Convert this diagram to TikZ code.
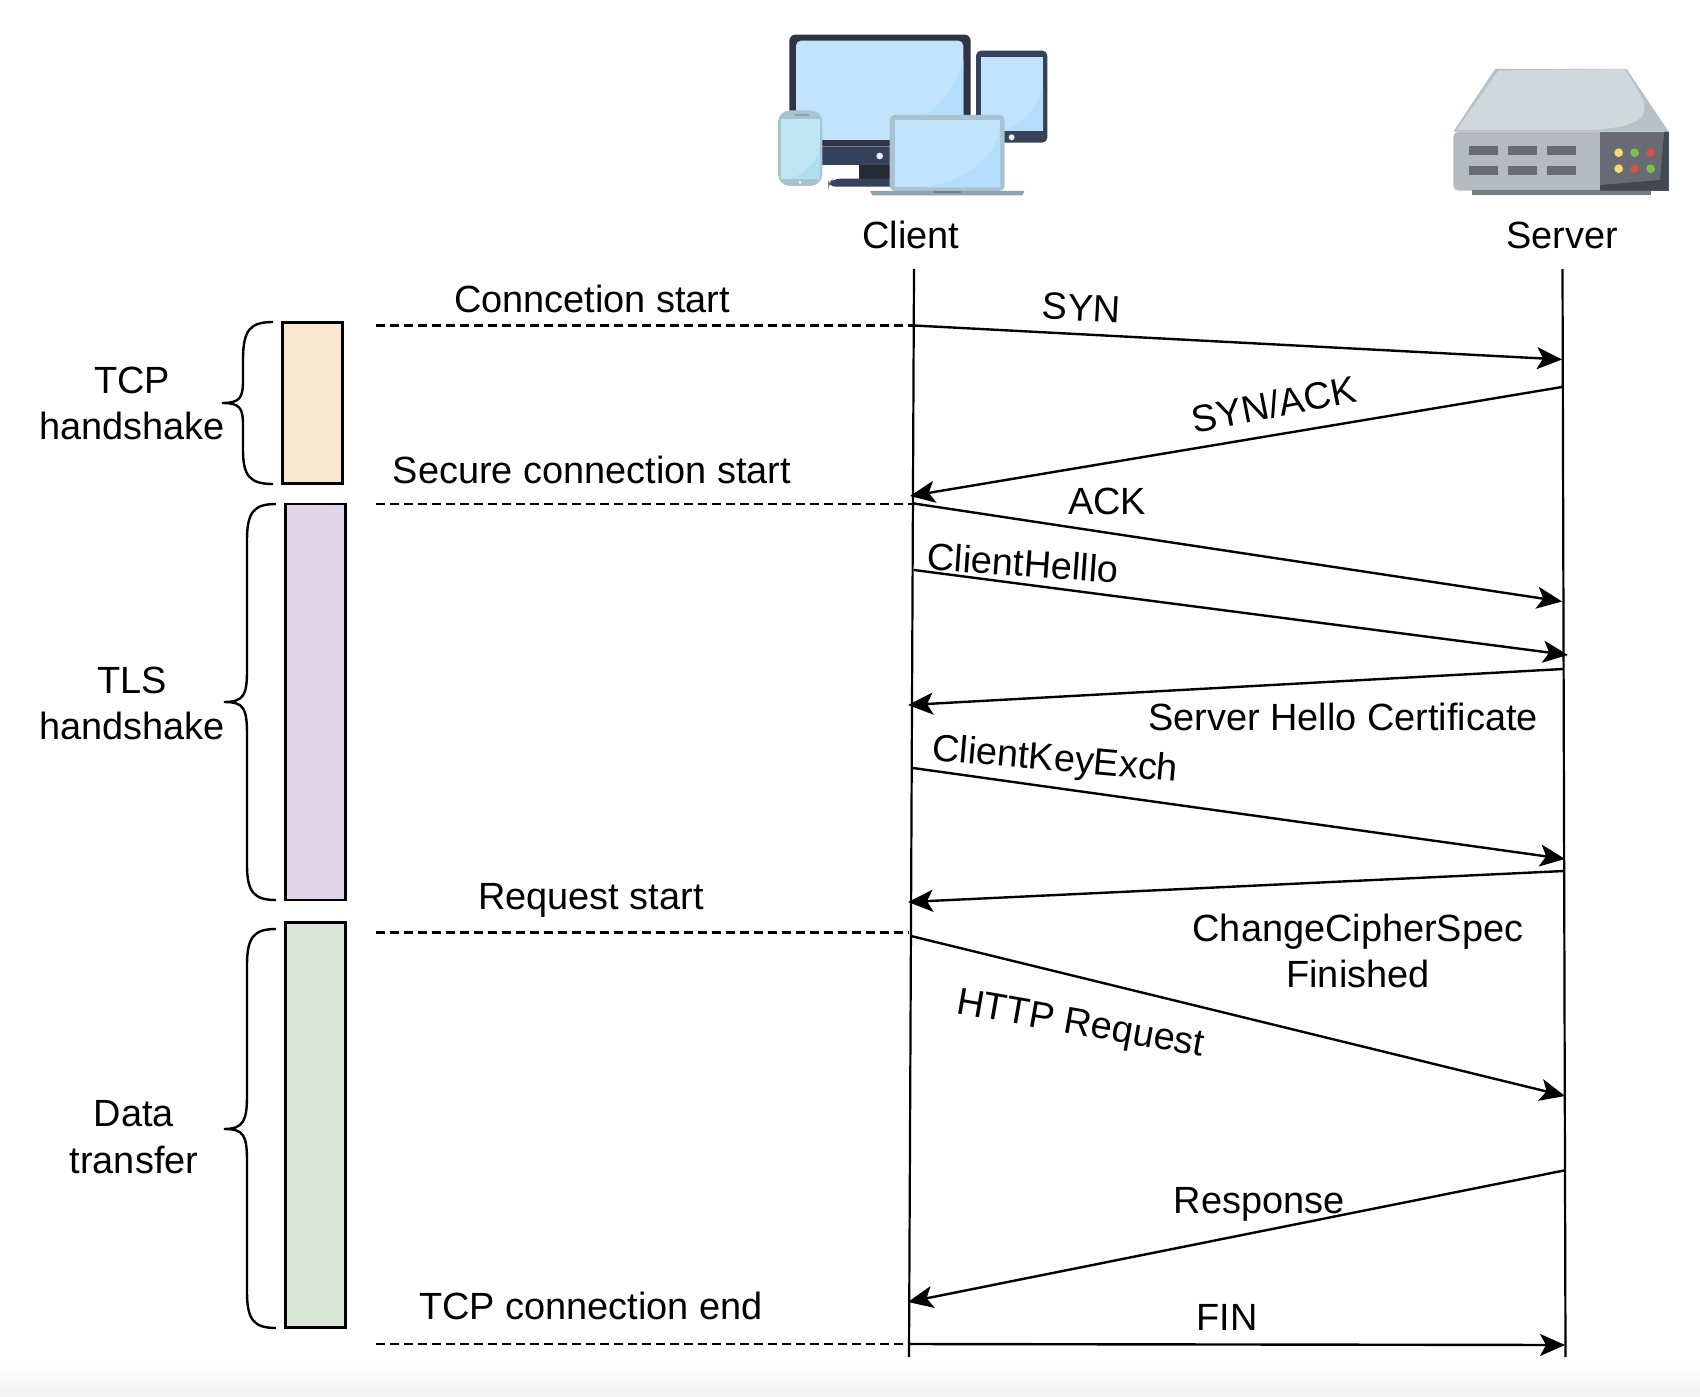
\documentclass[tikz,border=0pt]{standalone}
\usepackage{fontspec}
\setmainfont{Liberation Sans}
\usetikzlibrary{arrows.meta}
\definecolor{scr}{HTML}{C1E4FC}
\definecolor{glare}{HTML}{B4DEFB}
\definecolor{navy}{HTML}{34425C}
\definecolor{bezel}{HTML}{2F3444}
\definecolor{lap}{HTML}{A9C2D0}
\definecolor{lapbase}{HTML}{8DA2AD}
\definecolor{lapnotch}{HTML}{6C808B}
\definecolor{slot}{HTML}{686C72}
\definecolor{phscr}{HTML}{BFE6F5}
\definecolor{phgl}{HTML}{AEDFEF}
\definecolor{srvtop}{HTML}{D0D8DB}
\definecolor{srvedge}{HTML}{B5C1C7}
\definecolor{srvfront}{HTML}{B4BABD}
\definecolor{srvfoot}{HTML}{767B80}
\definecolor{srvdark}{HTML}{43474E}
\definecolor{ledy}{HTML}{F6DC6C}
\definecolor{ledg}{HTML}{7FC04C}
\definecolor{ledr}{HTML}{D5524A}
\definecolor{tcpfill}{HTML}{FBE6D0}
\definecolor{tlsfill}{HTML}{E0D5E8}
\definecolor{datafill}{HTML}{DAE7D7}
\definecolor{stand}{HTML}{262A33}
\definecolor{btn}{HTML}{EEEEEE}
\tikzset{
  lbl/.style={font=\fontsize{37.9}{46.5}\selectfont,inner sep=0pt,align=center,text=black},
  life/.style={draw=black,line width=2.2pt},
  msg/.style={draw=black,line width=2.4pt,-{Stealth[length=25pt,width=22pt,inset=6pt]}},
  dashline/.style={draw=black,line width=2.4pt,dash pattern=on 9pt off 5pt},
  phase/.style={draw=black,line width=2.6pt,inner sep=0pt},
  brc/.style={draw=black,line width=2.4pt},
}
\begin{document}
\begin{tikzpicture}[x=1pt,y=-1pt]
\useasboundingbox (0,0) rectangle (1700,1396.5);
\fill[white] (0,0) rectangle (1700,1396.5);
\shade[top color=white,bottom color=black!5,draw=none] (0,1362) rectangle (1700,1396.5);

% client devices
\begin{scope}[shift={(760,20)},x=0.33333pt,y=-0.33333pt]
  \fill[bezel,rounded corners=6] (88,44) rectangle (632,380);
  \fill[navy] (88,380) rectangle (632,434);
  \fill[scr,rounded corners=5] (108,62) rectangle (610,360);
  \fill[glare] (610,120) .. controls (590,200) and (540,260) .. (470,300) -- (470,360) -- (610,360) -- cycle;
  \fill[btn] (359,408) circle (10);
  \fill[stand] (296,434) rectangle (400,478);
  \fill[navy,rounded corners=7] (205,500) -- (205,490) -- (220,476) -- (420,476) -- (420,500) -- cycle;
  \fill[navy,rounded corners=5] (648,92) rectangle (862,368);
  \fill[scr] (664,110) rectangle (849,333);
  \fill[glare] (849,200) .. controls (835,260) and (790,310) .. (730,333) -- (849,333) -- cycle;
  \fill[btn] (755,352) circle (9);
  \fill[lap,rounded corners=12] (54,271) rectangle (187,498);
  \fill[lapbase] (105,283) rectangle (147,288);
  \fill[phscr] (62,296) rectangle (180,476);
  \fill[phgl] (180,380) .. controls (170,430) and (130,465) .. (90,476) -- (180,476) -- cycle;
  \fill[btn] (120,487) circle (5);
  \fill[lap,rounded corners=5] (389,285) rectangle (734,513);
  \fill[scr] (405,301) -- (720,301) -- (720,502) -- (405,502) -- cycle;
  \fill[glare] (720,330) .. controls (700,420) and (620,475) .. (500,502) -- (720,502) -- cycle;
  \fill[lapbase] (330,513) -- (793,513) -- (787,526) -- (337,526) -- cycle;
  \fill[lapnotch] (522,513) rectangle (603,518);
\end{scope}

% server
\begin{scope}[shift={(1430,50)},x=0.33333pt,y=-0.33333pt]
  \fill[srvedge] (70,245) -- (195,57) -- (590,57) -- (716,245) -- cycle;
  \fill[srvtop] (80,240) -- (205,62) -- (585,57) -- (640,150) .. controls (650,200) and (640,225) .. (500,240) -- cycle;
  \fill[srvfront,rounded corners=5] (70,245) rectangle (716,422);
  \fill[srvfoot] (125,420) rectangle (663,436);
  \fill[slot] (510,245) rectangle (716,422);
  \fill[srvdark] (703,245) -- (716,245) -- (716,422) -- (510,422) -- (510,405) -- (690,390) -- cycle;
  \foreach \sx in {116,234,351} \foreach \sy in {288,347}
    \fill[slot] (\sx,\sy) rectangle ++(87,28);
  \fill[ledy] (566,308) circle (13);
  \fill[ledg] (614,308) circle (13);
  \fill[ledr] (662,308) circle (13);
  \fill[ledy] (566,356) circle (13);
  \fill[ledr] (614,356) circle (13);
  \fill[ledg] (662,356) circle (13);
\end{scope}

% phases
\node[phase,fill=tcpfill,minimum width=60pt,minimum height=161.5pt] (tcpbar) at (312.5,403) {};
\node[phase,fill=tlsfill,minimum width=60pt,minimum height=396pt] (tlsbar) at (315.5,702) {};
\node[phase,fill=datafill,minimum width=60pt,minimum height=405pt] (databar) at (315.5,1125) {};

% braces
\draw[brc] (273,322) .. controls (250,322) and (243,330) .. (243,360) -- (243,380) .. controls (243,398) and (240,403) .. (222,403)
  .. controls (240,403) and (243,408) .. (243,425) -- (243,450) .. controls (243,476) and (250,484) .. (273,484);
\draw[brc] (276,504) .. controls (254,504) and (247,512) .. (247,540) -- (247,670) .. controls (247,695) and (244,702) .. (224,702)
  .. controls (244,702) and (247,708) .. (247,735) -- (247,865) .. controls (247,892) and (254,900) .. (276,900);
\draw[brc] (276,929) .. controls (254,929) and (247,937) .. (247,965) -- (247,1095) .. controls (247,1120) and (244,1129) .. (224,1129)
  .. controls (244,1129) and (247,1135) .. (247,1162) -- (247,1292) .. controls (247,1320) and (254,1328) .. (276,1328);

% coordinates
\coordinate (ct) at (914,269);
\coordinate (cb) at (909,1357);
\coordinate (st) at (1562.5,269);
\coordinate (sb) at (1565.5,1357);
\coordinate (d1a) at (376,325.5);  \coordinate (d1b) at (914,325.5);
\coordinate (d2a) at (376,504);  \coordinate (d2b) at (913,504);
\coordinate (d3a) at (376,932.5);  \coordinate (d3b) at (909,932.5);
\coordinate (d4a) at (376,1344); \coordinate (d4b) at (906,1344);
\coordinate (m1a) at (914,325.5);   \coordinate (m1b) at (1562,359.5);
\coordinate (m2a) at (1562,387);  \coordinate (m2b) at (910,496);
\coordinate (m3a) at (914,503.5);   \coordinate (m3b) at (1562,601.5);
\coordinate (m4a) at (914,570);   \coordinate (m4b) at (1568,655);
\coordinate (m5a) at (1563,669);  \coordinate (m5b) at (908,705);
\coordinate (m6a) at (913,768);   \coordinate (m6b) at (1565,859);
\coordinate (m7a) at (1564,871);  \coordinate (m7b) at (908,902);
\coordinate (m8a) at (911,936);   \coordinate (m8b) at (1565,1096);
\coordinate (m9a) at (1564,1170.5); \coordinate (m9b) at (908,1302);
\coordinate (m10a) at (909,1344); \coordinate (m10b) at (1565,1345);

\draw[life] (ct) -- (cb);
\draw[life] (st) -- (sb);
\draw[dashline] (d1a) -- (d1b);
\draw[dashline] (d2a) -- (d2b);
\draw[dashline] (d3a) -- (d3b);
\draw[dashline] (d4a) -- (d4b);
\foreach \i in {1,...,10} \draw[msg] (m\i a) -- (m\i b);

% labels
\node[lbl] (client) at (911,235) {Client};
\node[lbl] (server) at (1562,235) {Server};
\node[lbl] (tcp) at (132,403.5) {TCP\\handshake};
\node[lbl] (tls) at (132,703.5) {TLS\\handshake};
\node[lbl] (data) at (134,1137) {Data\\transfer};
\node[lbl] (l1) at (592,299) {Conncetion start};
\node[lbl] (l2) at (592,469.5) {Secure connection start};
\node[lbl] (l3) at (591,900) {Request start};
\node[lbl] (l4) at (591,1306) {TCP connection end};
\node[lbl,rotate=-3] (syn) at (1081.5,308) {SYN};
\node[lbl,rotate=11] (synack) at (1274,404) {SYN/ACK};
\node[lbl] (ack) at (1107,501.5) {ACK};
\node[lbl,rotate=-4] (chello) at (1023,563) {ClientHelllo};
\node[lbl] (shello) at (1343,717) {Server Hello Certificate};
\node[lbl,rotate=-5] (ckey) at (1055,761) {ClientKeyExch};
\node[lbl] (ccs) at (1358,951) {ChangeCipherSpec\\Finished};
\node[lbl,rotate=-10] (http) at (1080,1026) {HTTP Request};
\node[lbl] (resp) at (1259,1204) {Response};
\node[lbl] (fin) at (1227,1317) {FIN};
\end{tikzpicture}
\end{document}
